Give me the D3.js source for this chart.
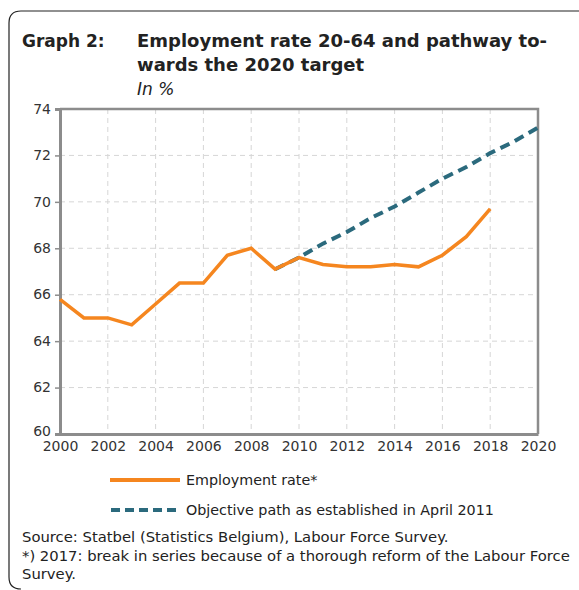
<!DOCTYPE html>
<html lang="en">
<head>
    <meta charset="utf-8">
    <title>Employment rate 20-64</title>
    <script type="text/javascript" src="https://d3js.org/d3.v7.min.js"></script>
    <style type="text/css">
        body { margin: 0; background: #fff; }
        svg text { font-family: "DejaVu Sans", sans-serif; fill: #222; }
        .axis path, .axis line { stroke: #8c8c8c; }
        .axis text { font-size: 14px; fill: #333; font-family: "DejaVu Sans", sans-serif; }
        .grid line { stroke: #d6d6d6; stroke-dasharray: 5,4; }
    </style>
</head>
<body>
<script type="text/javascript">
    // data
    var years = [2000, 2001, 2002, 2003, 2004, 2005, 2006, 2007, 2008, 2009,
                 2010, 2011, 2012, 2013, 2014, 2015, 2016, 2017, 2018];
    var employment = [65.8, 65.0, 65.0, 64.7, 65.6, 66.5, 66.5, 67.7, 68.0, 67.1,
                      67.6, 67.3, 67.2, 67.2, 67.3, 67.2, 67.7, 68.5, 69.7];
    var objYears = [2009, 2010, 2011, 2012, 2013, 2014, 2015, 2016, 2017, 2018, 2019, 2020];
    var objective = [67.1, 67.6, 68.2, 68.7, 69.3, 69.8, 70.4, 71.0, 71.5, 72.1, 72.6, 73.2];
    var xTicks = [2000, 2002, 2004, 2006, 2008, 2010, 2012, 2014, 2016, 2018, 2020];
    var yTicks = [60, 62, 64, 66, 68, 70, 72, 74];

    var W = 579, H = 590;
    var margin = { top: 109, right: 41, bottom: 156, left: 60 };
    var w = W - margin.left - margin.right;
    var h = H - margin.top - margin.bottom;

    var svg = d3.select("body").append("svg")
        .attr("width", W)
        .attr("height", H);

    // frame with rounded corners
    svg.append("path")
        .attr("d", "M 600 11 L 21 11 Q 9 11 9 23 L 9 577 Q 9 589 21 589")
        .attr("fill", "none")
        .attr("stroke", "#222")
        .attr("stroke-width", 1.2);

    // title
    svg.append("text").attr("x", 22).attr("y", 47)
        .style("font-size", "17px").style("font-weight", "bold").text("Graph 2:");
    svg.append("text").attr("x", 137).attr("y", 47)
        .style("font-size", "18px").style("font-weight", "bold").text("Employment rate 20-64 and pathway to-");
    svg.append("text").attr("x", 137).attr("y", 71)
        .style("font-size", "18px").style("font-weight", "bold").text("wards the 2020 target");
    svg.append("text").attr("x", 137).attr("y", 95)
        .style("font-size", "17px").style("font-style", "italic").text("In %");

    var g = svg.append("g")
        .attr("transform", "translate(" + margin.left + "," + margin.top + ")");

    var xScale = d3.scaleLinear().domain([2000, 2020]).range([0, w]);
    var yScale = d3.scaleLinear().domain([60, 74]).range([h, 0]);

    // grid
    g.append("g").attr("class", "grid")
        .selectAll("line.h").data(yTicks.slice(1, -1)).enter().append("line")
        .attr("x1", 0).attr("x2", w)
        .attr("y1", function (d) { return yScale(d); })
        .attr("y2", function (d) { return yScale(d); });
    g.append("g").attr("class", "grid")
        .selectAll("line.v").data(xTicks.slice(1, -1)).enter().append("line")
        .attr("y1", 0).attr("y2", h)
        .attr("x1", function (d) { return xScale(d); })
        .attr("x2", function (d) { return xScale(d); });

    // plot border (top and right)
    g.append("path")
        .attr("d", "M0,0 H" + w + " V" + h)
        .attr("fill", "none")
        .attr("stroke", "#8c8c8c")
        .attr("stroke-width", 2.5);

    // axes
    var yAxis = d3.axisLeft(yScale).tickValues(yTicks).tickSize(5).tickPadding(4).tickFormat(d3.format("d"));
    var xAxis = d3.axisBottom(xScale).tickValues(xTicks).tickSize(0).tickPadding(3).tickFormat(d3.format("d"));

    var gy = g.append("g").attr("class", "axis").call(yAxis);
    gy.select(".domain").attr("stroke-width", 3);
    gy.selectAll("line").attr("stroke-width", 1.5);
    gy.selectAll("text").attr("dy", function (d) { return d === 60 ? "0.1em" : "0.3em"; });

    var gx = g.append("g").attr("class", "axis")
        .attr("transform", "translate(0," + h + ")")
        .call(xAxis);
    gx.select(".domain").attr("stroke-width", 3);
    gx.selectAll("text").attr("dy", "1em");

    var line = d3.line()
        .x(function (d) { return xScale(d[0]); })
        .y(function (d) { return yScale(d[1]); });

    // objective path
    g.append("path")
        .datum(d3.zip(objYears, objective))
        .attr("d", line)
        .attr("fill", "none")
        .attr("stroke", "#2b6a7d")
        .attr("stroke-width", 4)
        .attr("stroke-dasharray", "10,6");

    // employment rate
    g.append("path")
        .datum(d3.zip(years, employment))
        .attr("d", line)
        .attr("fill", "none")
        .attr("stroke", "#f5861f")
        .attr("stroke-width", 3.5);

    // legend
    var legend = svg.append("g");
    legend.append("line").attr("x1", 110).attr("x2", 180).attr("y1", 480).attr("y2", 480)
        .attr("stroke", "#f5861f").attr("stroke-width", 4);
    legend.append("text").attr("x", 186).attr("y", 485).style("font-size", "14.3px").text("Employment rate*");
    legend.append("line").attr("x1", 111).attr("x2", 180).attr("y1", 510).attr("y2", 510)
        .attr("stroke", "#2b6a7d").attr("stroke-width", 4).attr("stroke-dasharray", "9,5");
    legend.append("text").attr("x", 186).attr("y", 515).style("font-size", "14.3px").text("Objective path as established in April 2011");

    // source notes
    var notes = ["Source: Statbel (Statistics Belgium), Labour Force Survey.",
                 "*) 2017: break in series because of a thorough reform of the Labour Force",
                 "Survey."];
    svg.selectAll("text.note").data(notes).enter().append("text")
        .attr("class", "note")
        .attr("x", 22)
        .attr("y", function (d, i) { return 542 + i * 18.5; })
        .style("font-size", "14.8px")
        .text(function (d) { return d; });
</script>
</body>
</html>
